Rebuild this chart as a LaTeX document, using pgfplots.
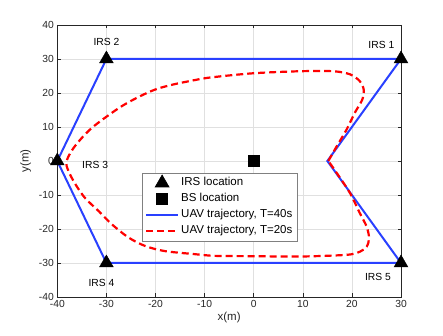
\documentclass[border=0pt]{standalone}
\usepackage{pgfplots}
\pgfplotsset{compat=1.18}
\usepackage{fontspec}
\setmainfont{Liberation Sans}
\definecolor{tickgray}{rgb}{0.15,0.15,0.15}
\definecolor{gridgray}{rgb}{0.88,0.88,0.88}
\definecolor{mblue}{rgb}{0.16,0.25,1.0}
\pgfplotsset{
  linelegend/.style={legend image code/.code={\draw[##1] (0pt,0pt) -- (32pt,0pt);}},
  marklegend/.style={legend image code/.code={\draw[##1] plot coordinates {(16pt,0pt)};}},
}
\begin{document}
\begin{tikzpicture}
\begin{axis}[
  scale only axis, width=343.7pt, height=272pt,
  xmin=-40, xmax=30, ymin=-40, ymax=40,
  xtick={-40,-30,...,30}, ytick={-40,-30,...,40},
  grid=major, major grid style={gridgray, line width=0.5pt},
  axis line style={tickgray, line width=0.6pt},
  tick style={tickgray, line width=0.5pt},
  major tick length=3.5pt,
  tick align=inside,
  /pgf/number format/assume math mode=true,
  ticklabel style={font=\fontsize{10.3}{12}\selectfont, text=tickgray},
  xlabel={x(m)}, ylabel={y(m)},
  label style={font=\fontsize{11.5}{13}\selectfont, text=tickgray},
  xlabel style={yshift=3pt},
  ylabel style={yshift=1pt},
  legend style={at={(0.2456,0.457)}, anchor=north west, draw=gray, line width=0.6pt,
    font=\fontsize{11.5}{13}\selectfont, cells={anchor=west}, row sep=0pt,
    nodes={inner sep=2pt, text height=9pt, text depth=3pt}, inner xsep=3pt, inner ysep=2pt},
]
\addplot[mblue, line width=2pt, forget plot] coordinates {
(30,30) (-30,30) (-40,0) (-30,-30) (30,-30) (15,0) (30,30)};
\addplot[red, line width=2.2pt, dash pattern=on 7pt off 4pt, smooth, forget plot] coordinates {
(15.2,0) (16.9,4.3) (18.9,9.2) (20.6,14.2) (22.1,18) (22.4,21) (21.6,23.5) (19.6,25.5)
(16.2,26.4) (9.4,26.4) (-0.1,25.8) (-8.6,24.6) (-12,23.8) (-16.7,22.4) (-20.1,21.0)
(-23.5,18.8) (-26.9,16.1) (-30.3,12.7) (-33,9.7) (-35,6.8) (-36.7,3.8) (-37.9,0.8)
(-38.1,-1.5) (-36.7,-5.9) (-34.4,-10.8) (-31.6,-14.7) (-28.9,-18.6) (-25.5,-22.5)
(-22.1,-25) (-18.1,-26.5) (-12,-27.4) (-7.9,-27.9) (0,-28) (9.4,-28.1) (18.9,-27.6)
(21.6,-26.7) (23,-25.2) (23.5,-22.7) (23,-19.3) (21.6,-15.3) (19.6,-9.4) (16.9,-3.5) (15.2,0)};
\addplot[only marks, mark=triangle*, mark size=8pt, black, marklegend] coordinates {
(30,30) (-30,30) (-40,0) (-30,-30) (30,-30)};
\addlegendentry{IRS location}
\addplot[only marks, mark=square*, mark size=5.5pt, black, marklegend] coordinates {(0,0)};
\addlegendentry{BS location}
\addlegendimage{mblue, line width=2pt, linelegend}
\addlegendentry{UAV trajectory, T=40s}
\addlegendimage{red, line width=2.2pt, dash pattern=on 7pt off 4pt, linelegend}
\addlegendentry{UAV trajectory, T=20s}
\node[font=\fontsize{10.3}{12}\selectfont] at (axis cs:26,34) {IRS 1};
\node[font=\fontsize{10.3}{12}\selectfont] at (axis cs:-30,34.9) {IRS 2};
\node[font=\fontsize{10.3}{12}\selectfont] at (axis cs:-32.3,-1.1) {IRS 3};
\node[font=\fontsize{10.3}{12}\selectfont] at (axis cs:-31,-35.8) {IRS 4};
\node[font=\fontsize{10.3}{12}\selectfont] at (axis cs:25.3,-34.2) {IRS 5};
\end{axis}
\path (-57.3pt,-39pt) rectangle (385.7pt,297pt);
\end{tikzpicture}
\end{document}
